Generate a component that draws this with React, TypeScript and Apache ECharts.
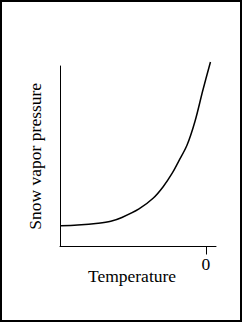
import React, { useEffect, useRef } from "react";
import * as echarts from "echarts";

const temperature = [-28.8, -25.5, -21.4, -18.9, -16.7, -13.3, -10.5, -8.5, -6.7, -5.5, -3.75, -2.2, -0.6, 0.9];
const vaporPressure = [11.5, 11.9, 12.9, 14.0, 16.1, 20.8, 26.7, 33.1, 40.6, 46.8, 56.2, 69.1, 86.7, 102.2];
const xTicks = [0];
const xAxisName = "Temperature";
const yAxisName = "Snow vapor pressure";

const FONT = "'Liberation Serif', 'Times New Roman', serif";

export default function App() {
  const ref = useRef<HTMLDivElement>(null);
  useEffect(() => {
    document.body.style.margin = "0";
    if (!ref.current) return;
    const chart = echarts.init(ref.current, null, { renderer: "svg" });
    chart.setOption({
      animation: false,
      backgroundColor: "#ffffff",
      grid: { left: 60, top: 66, width: 156, height: 180.5, containLabel: false },
      xAxis: {
        type: "value",
        min: -29,
        max: 2,
        name: xAxisName,
        nameLocation: "middle",
        nameGap: 20.5,
        nameMoveOverlap: false,
        nameTextStyle: { fontFamily: FONT, fontSize: 17.5, color: "#000", padding: [0, 12, 0, 0], lineHeight: 17.5 },
        axisLine: { show: true, onZero: false, lineStyle: { color: "#000", width: 1 } },
        axisTick: { show: true, customValues: xTicks, length: 8, lineStyle: { color: "#000", width: 1 } },
        axisLabel: { show: true, customValues: xTicks, fontFamily: FONT, fontSize: 17.5, color: "#000", margin: 8 },
        splitLine: { show: false },
      },
      yAxis: {
        type: "value",
        min: 0,
        max: 100,
        name: yAxisName,
        nameLocation: "middle",
        nameGap: 16.5,
        nameRotate: 90,
        nameMoveOverlap: false,
        nameTextStyle: { fontFamily: FONT, fontSize: 17.5, color: "#000", lineHeight: 17.5 },
        axisLine: { show: true, onZero: false, lineStyle: { color: "#000", width: 1 } },
        axisTick: { show: false },
        axisLabel: { show: false },
        splitLine: { show: false },
      },
      series: [
        {
          type: "line",
          data: temperature.map((t, i) => [t, vaporPressure[i]]),
          smooth: 0.35,
          showSymbol: false,
          clip: false,
          lineStyle: { color: "#000", width: 1.5 },
        },
      ],
      graphic: [
        {
          type: "rect",
          shape: { x: 1, y: 1, width: 240, height: 320 },
          style: { fill: "none", stroke: "#000", lineWidth: 2 },
          silent: true,
        },
      ],
    });
    return () => chart.dispose();
  }, []);
  return <div ref={ref} style={{ width: 242, height: 322 }} />;
}
